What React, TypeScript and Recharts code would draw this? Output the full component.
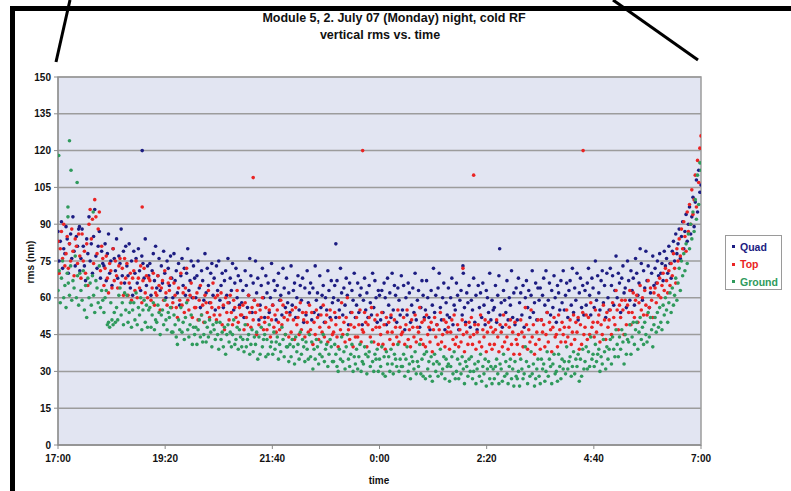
import React from "react";
import {
  ScatterChart,
  Scatter,
  XAxis,
  YAxis,
  CartesianGrid,
  Legend,
  ReferenceArea,
} from "recharts";

// ---------- data ----------
const STEP_MIN = 1.5; // sampling step in minutes after 17:00
const xTicks = [0, 140, 280, 420, 560, 700, 840];
const xTickLabels = ["17:00", "19:20", "21:40", "0:00", "2:20", "4:40", "7:00"];
const yTicks = [0, 15, 30, 45, 60, 75, 90, 105, 120, 135, 150];

const quadValues = [
  87, 75, 83, 91, 72, 80, 78, 89, 84, 70, 82, 86, 76, 93, 79, 73, 85, 81, 88, 71,
  76, 88, 81, 73, 67, 84, 78, 93, 75, 82, 70, 85, 96, 77, 72, 81, 87, 68, 79, 74,
  73, 82, 67, 78, 86, 70, 75, 65, 80, 76, 71, 84, 68, 77, 74, 88, 69, 79, 66, 81,
  73, 69, 82, 64, 75, 61, 79, 70, 76, 66, 80, 71, 63, 77, 74, 68, 84, 65, 73, 69,
  74, 61, 71, 78, 67, 81, 64, 69, 76, 63, 73, 66, 79, 70, 60, 75, 72, 65, 77, 68,
  60, 78, 67, 71, 62, 74, 57, 69, 76, 65, 72, 61, 70, 80, 63, 67, 75, 60, 73, 68,
  60, 69, 75, 64, 56, 71, 67, 59, 78, 62, 72, 65, 58, 70, 74, 61, 68, 55, 73, 63,
  75, 59, 65, 70, 56, 67, 71, 61, 76, 58, 68, 63, 74, 55, 66, 72, 60, 69, 57, 67,
  58, 63, 52, 71, 65, 56, 61, 76, 69, 54, 66, 59, 75, 62, 68, 51, 57, 65, 72, 60,
  52, 69, 62, 66, 54, 60, 74, 57, 67, 63, 51, 65, 70, 59, 61, 53, 72, 64, 56, 68,
  58, 62, 54, 73, 57, 63, 66, 52, 60, 69, 55, 65, 59, 68, 50, 64, 53, 71, 58, 62,
  66, 51, 64, 54, 73, 59, 62, 53, 69, 56, 61, 65, 50, 60, 55, 71, 63, 52, 67, 58,
  60, 65, 52, 67, 59, 55, 72, 62, 53, 64, 57, 68, 61, 49, 66, 54, 63, 59, 70, 52,
  57, 66, 54, 61, 64, 49, 59, 68, 55, 62, 52, 65, 58, 53, 70, 56, 67, 60, 50, 63,
  61, 51, 63, 54, 66, 60, 49, 68, 57, 62, 52, 70, 55, 65, 61, 50, 64, 59, 53, 69,
  55, 65, 47, 60, 53, 66, 62, 50, 57, 64, 54, 70, 51, 59, 63, 48, 56, 67, 61, 52,
  55, 67, 60, 52, 47, 63, 57, 72, 54, 61, 49, 64, 70, 56, 51, 60, 66, 47, 58, 53,
  64, 52, 60, 68, 49, 57, 55, 66, 61, 47, 59, 63, 53, 70, 56, 50, 62, 58, 65, 48,
  59, 55, 68, 50, 61, 47, 65, 56, 62, 52, 66, 57, 49, 63, 60, 54, 70, 51, 59, 55,
  56, 65, 50, 61, 69, 53, 58, 48, 63, 59, 54, 67, 51, 60, 57, 71, 52, 62, 49, 64,
  51, 68, 58, 62, 53, 65, 48, 60, 67, 56, 63, 52, 61, 71, 54, 58, 66, 51, 64, 59,
  64, 51, 61, 68, 57, 71, 54, 59, 66, 53, 63, 56, 69, 60, 50, 65, 62, 55, 67, 58,
  71, 55, 61, 66, 52, 63, 67, 57, 72, 54, 64, 59, 70, 51, 62, 68, 56, 65, 53, 63,
  57, 66, 72, 61, 53, 68, 64, 56, 75, 59, 69, 62, 55, 67, 71, 58, 65, 52, 70, 60,
  55, 72, 65, 69, 57, 63, 77, 60, 70, 66, 54, 68, 73, 62, 64, 56, 75, 67, 59, 71,
  63, 68, 57, 76, 70, 61, 66, 80, 74, 59, 71, 64, 79, 67, 73, 56, 62, 70, 77, 65,
  72, 66, 75, 69, 78, 70, 74, 67, 79, 73, 76, 70, 81, 74, 68, 79, 83, 75, 86, 78,
  82, 88, 76, 85, 91, 80, 87, 94, 83, 90, 97, 86, 93, 101, 89, 99, 108, 95, 112, 103,
  106,
];

const topValues = [
  83, 70, 80, 87, 76, 90, 73, 78, 85, 72, 82, 75, 88, 79, 69, 84, 81, 74, 86, 77,
  68, 86, 75, 79, 70, 82, 65, 90, 96, 84, 92, 74, 100, 93, 78, 88, 95, 71, 81, 76,
  65, 72, 77, 68, 62, 74, 71, 64, 80, 67, 75, 69, 64, 73, 76, 66, 72, 61, 76, 68,
  74, 61, 66, 70, 59, 68, 71, 63, 75, 60, 68, 64, 73, 58, 67, 72, 62, 69, 60, 68,
  67, 59, 64, 70, 57, 62, 61, 69, 65, 55, 64, 67, 59, 71, 62, 57, 66, 63, 68, 56,
  58, 66, 61, 56, 52, 64, 59, 70, 57, 62, 54, 64, 72, 59, 55, 61, 66, 52, 60, 56,
  56, 62, 51, 59, 65, 53, 57, 50, 61, 58, 54, 63, 52, 58, 56, 66, 53, 60, 51, 61,
  56, 53, 62, 49, 57, 47, 60, 54, 58, 51, 61, 54, 49, 59, 56, 52, 63, 50, 56, 53,
  53, 57, 47, 58, 52, 49, 61, 54, 48, 56, 51, 59, 54, 45, 57, 49, 55, 52, 60, 47,
  50, 56, 47, 52, 55, 44, 51, 57, 48, 53, 46, 55, 50, 47, 59, 49, 57, 52, 45, 54,
  51, 44, 53, 46, 55, 51, 43, 56, 49, 52, 45, 58, 47, 54, 51, 44, 54, 50, 46, 57,
  47, 54, 41, 50, 45, 55, 52, 43, 48, 53, 46, 57, 44, 50, 53, 42, 48, 55, 51, 45,
  46, 54, 49, 44, 40, 52, 47, 58, 45, 50, 42, 52, 60, 47, 43, 49, 54, 40, 48, 44,
  52, 44, 49, 55, 42, 47, 46, 54, 50, 40, 49, 52, 44, 56, 47, 42, 51, 48, 53, 41,
  48, 45, 54, 41, 49, 39, 52, 46, 50, 43, 53, 46, 41, 51, 48, 44, 55, 42, 48, 45,
  46, 52, 41, 49, 55, 43, 47, 40, 51, 48, 44, 53, 42, 48, 46, 56, 43, 50, 41, 51,
  40, 53, 45, 48, 42, 50, 38, 47, 52, 44, 49, 41, 47, 54, 42, 45, 51, 40, 50, 46,
  48, 39, 46, 51, 43, 53, 41, 44, 49, 40, 47, 42, 51, 45, 38, 49, 46, 41, 50, 44,
  52, 41, 45, 49, 39, 46, 49, 42, 53, 40, 47, 44, 51, 38, 46, 50, 41, 48, 39, 46,
  41, 47, 51, 44, 38, 49, 46, 40, 53, 42, 49, 44, 39, 48, 51, 41, 46, 37, 50, 43,
  41, 45, 37, 51, 46, 40, 44, 56, 49, 39, 47, 42, 55, 44, 49, 37, 41, 46, 51, 43,
  39, 51, 46, 49, 40, 45, 54, 42, 50, 47, 38, 48, 52, 44, 45, 40, 53, 47, 42, 50,
  45, 48, 42, 55, 44, 48, 51, 41, 46, 53, 43, 50, 46, 52, 39, 49, 41, 54, 45, 48,
  53, 43, 52, 45, 58, 48, 50, 44, 55, 46, 50, 53, 42, 49, 45, 57, 51, 43, 54, 48,
  51, 55, 45, 58, 52, 49, 63, 55, 47, 57, 52, 59, 55, 45, 59, 49, 57, 54, 63, 49,
  54, 62, 52, 59, 61, 50, 58, 65, 55, 60, 53, 63, 57, 53, 67, 56, 64, 59, 52, 62,
  64, 58, 66, 61, 68, 60, 65, 70, 63, 72, 67, 62, 71, 65, 74, 69, 78, 72, 66, 80,
  75, 84, 77, 88, 80, 91, 85, 79, 95, 87, 98, 90, 104, 94, 100, 110, 97, 116, 107, 121,
  126,
];

const groundValues = [
  63, 71, 58, 68, 75, 60, 65, 56, 70, 66, 61, 73, 59, 67, 64, 77, 60, 69, 57, 70,
  63, 59, 71, 55, 65, 52, 68, 60, 66, 57, 69, 61, 54, 67, 64, 58, 73, 56, 63, 59,
  54, 60, 63, 49, 50, 48, 58, 51, 49, 54, 50, 56, 51, 61, 64, 53, 58, 49, 62, 55,
  61, 50, 54, 58, 48, 55, 58, 51, 62, 49, 56, 53, 60, 47, 55, 59, 50, 57, 48, 55,
  56, 48, 53, 58, 47, 51, 50, 57, 54, 45, 53, 55, 49, 59, 51, 47, 54, 52, 56, 46,
  46, 53, 49, 44, 41, 51, 47, 56, 46, 50, 43, 52, 58, 47, 44, 49, 53, 41, 48, 45,
  48, 41, 47, 51, 44, 53, 42, 45, 50, 42, 48, 44, 51, 46, 40, 49, 47, 43, 50, 45,
  39, 50, 43, 46, 40, 48, 37, 45, 49, 42, 46, 40, 45, 51, 41, 43, 48, 39, 47, 44,
  40, 43, 38, 49, 40, 43, 45, 37, 41, 47, 38, 44, 41, 46, 35, 44, 37, 48, 40, 43,
  45, 36, 43, 37, 49, 40, 42, 37, 46, 39, 42, 44, 35, 41, 38, 48, 43, 36, 45, 40,
  40, 34, 41, 36, 43, 40, 33, 44, 38, 41, 35, 46, 37, 43, 40, 34, 42, 39, 35, 45,
  36, 42, 31, 39, 35, 43, 40, 33, 37, 42, 36, 45, 34, 39, 41, 32, 37, 43, 40, 34,
  34, 41, 37, 32, 30, 39, 35, 44, 34, 38, 31, 40, 45, 35, 32, 37, 41, 30, 36, 33,
  39, 31, 36, 41, 30, 34, 33, 40, 37, 29, 36, 38, 32, 42, 34, 30, 37, 35, 39, 30,
  35, 32, 40, 29, 36, 28, 38, 33, 36, 30, 39, 33, 29, 37, 35, 32, 41, 30, 35, 32,
  32, 37, 28, 35, 40, 30, 33, 27, 36, 34, 31, 38, 29, 34, 32, 41, 29, 35, 28, 37,
  27, 38, 31, 34, 28, 36, 26, 33, 37, 30, 34, 28, 33, 39, 29, 31, 36, 27, 35, 32,
  33, 26, 32, 36, 29, 38, 27, 30, 35, 27, 33, 29, 36, 31, 25, 34, 32, 28, 35, 30,
  36, 27, 30, 33, 25, 31, 34, 28, 37, 26, 32, 29, 35, 24, 31, 34, 27, 32, 25, 31,
  27, 32, 35, 29, 25, 33, 31, 26, 37, 28, 34, 29, 25, 32, 35, 27, 31, 24, 34, 28,
  27, 30, 24, 35, 31, 27, 29, 40, 34, 25, 32, 28, 38, 29, 33, 24, 27, 31, 35, 28,
  25, 35, 31, 33, 26, 30, 38, 28, 35, 32, 25, 33, 37, 29, 30, 26, 37, 32, 27, 35,
  31, 34, 29, 40, 31, 34, 36, 28, 32, 38, 29, 35, 32, 37, 26, 35, 28, 39, 31, 34,
  40, 31, 38, 32, 44, 35, 37, 32, 41, 34, 37, 39, 30, 36, 33, 43, 38, 31, 40, 35,
  39, 43, 33, 44, 39, 36, 47, 41, 36, 44, 39, 47, 42, 33, 45, 37, 43, 42, 49, 37,
  44, 50, 41, 47, 50, 39, 46, 52, 43, 48, 41, 50, 45, 42, 54, 44, 52, 47, 40, 49,
  52, 46, 54, 48, 56, 50, 47, 57, 53, 60, 55, 50, 58, 62, 54, 64, 57, 61, 68, 59,
  66, 72, 63, 75, 69, 78, 71, 82, 74, 86, 80, 90, 84, 95, 87, 100, 92, 110, 98, 115,
  112,
];

// isolated readings (minute after 17:00, rms)
const quadExtra = [
  { t: 110, v: 120 }, { t: 363, v: 82 }, { t: 577, v: 80 }, { t: 529, v: 73 }, { t: 28, v: 89 },
];
const topExtra = [
  { t: 110, v: 97 }, { t: 255, v: 109 }, { t: 398, v: 120 }, { t: 543, v: 110 },
  { t: 686, v: 120 }, { t: 529, v: 72 },
];
const groundExtra = [
  { t: 1, v: 118 }, { t: 15, v: 124 }, { t: 17, v: 112 }, { t: 25, v: 107 },
  { t: 13, v: 97 }, { t: 13, v: 93 }, { t: 46, v: 95 },
];

const toPoints = (vals: number[], extra: { t: number; v: number }[]) =>
  vals.map((v, i) => ({ t: i * STEP_MIN, v })).concat(extra);

const series = [
  { name: "Quad", color: "#1c1c82", data: toPoints(quadValues, quadExtra) },
  { name: "Top", color: "#ea2424", data: toPoints(topValues, topExtra) },
  { name: "Ground", color: "#2f9a5c", data: toPoints(groundValues, groundExtra) },
];

const FONT = "'Liberation Sans', Arial, Helvetica, sans-serif";

const Dot = (color: string) => (props: any) =>
  props.cx == null ? null : <circle cx={props.cx} cy={props.cy} r={1.8} fill={color} />;

const LegendBox = () => (
  <div
    style={{
      width: 55,
      height: 51,
      background: "#fff",
      border: "1px solid #9a9a9a",
      fontFamily: FONT,
      fontWeight: "bold",
      fontSize: 10.5,
      boxSizing: "content-box",
      paddingTop: 2,
    }}
  >
    {series.map((s) => (
      <div key={s.name} style={{ height: 17.5, display: "flex", alignItems: "center", color: s.color }}>
        <span style={{ display: "inline-block", width: 3, height: 3, background: s.color, marginLeft: 6, marginRight: 5 }} />
        {s.name}
      </div>
    ))}
  </div>
);

export default function App() {
  const tickStyle = { fill: "#111", fontSize: 10, fontWeight: "bold", fontFamily: FONT } as any;
  return (
    <div style={{ position: "absolute", left: 0, top: 0, width: 791, height: 491, background: "#fff", overflow: "hidden" }}>
      <ScatterChart width={791} height={491} margin={{ top: 77, right: 90, bottom: 16, left: 0 }}>
        <CartesianGrid vertical={false} stroke="#9c9c9c" strokeWidth={1.5} fill="#e2e5f2" />
        <XAxis
          type="number"
          dataKey="t"
          domain={[0, 840]}
          ticks={xTicks}
          tickFormatter={(v: number) => xTickLabels[xTicks.indexOf(v)] ?? ""}
          height={30}
          tickSize={4}
          tickMargin={6}
          stroke="#8a8a8a"
          tick={tickStyle}
          allowDataOverflow
        />
        <YAxis
          type="number"
          dataKey="v"
          domain={[0, 150]}
          ticks={yTicks}
          width={58}
          tickSize={4}
          tickMargin={3}
          stroke="#8a8a8a"
          tick={tickStyle}
          allowDataOverflow
        />
        <ReferenceArea x1={0} x2={840} y1={0} y2={150} fill="none" stroke="#9c9c9c" strokeWidth={1.5} />
        {series.map((s) => (
          <Scatter
            key={s.name}
            name={s.name}
            data={s.data}
            fill={s.color}
            shape={Dot(s.color)}
            isAnimationActive={false}
          />
        ))}
        <Legend
          layout="vertical"
          align="center"
          verticalAlign="middle"
          wrapperStyle={{ left: 725, top: 235, width: 57, height: 53 }}
          content={LegendBox}
        />
      </ScatterChart>
      <svg
        width={791}
        height={491}
        style={{ position: "absolute", left: 0, top: 0, pointerEvents: "none" }}
      >
        <g fontFamily={FONT} fontWeight="bold" fill="#111">
          <text x={394} y={22} fontSize={12.5} textAnchor="middle">
            Module 5, 2. July 07 (Monday) night, cold RF
          </text>
          <text x={380} y={39} fontSize={12.5} textAnchor="middle">
            vertical rms vs. time
          </text>
          <text x={379} y={484} fontSize={10} textAnchor="middle">
            time
          </text>
          <text x={34} y={262} fontSize={10} textAnchor="middle" transform="rotate(-90 34 262)">
            rms (nm)
          </text>
        </g>
        <line x1={10} y1={8.5} x2={791} y2={8.5} stroke="#000" strokeWidth={5} />
        <line x1={12.5} y1={6} x2={12.5} y2={491} stroke="#000" strokeWidth={5} />
        <line x1={70} y1={0} x2={56} y2={62} stroke="#000" strokeWidth={3} />
        <line x1={613} y1={0} x2={698} y2={60} stroke="#000" strokeWidth={3} />
      </svg>
    </div>
  );
}
